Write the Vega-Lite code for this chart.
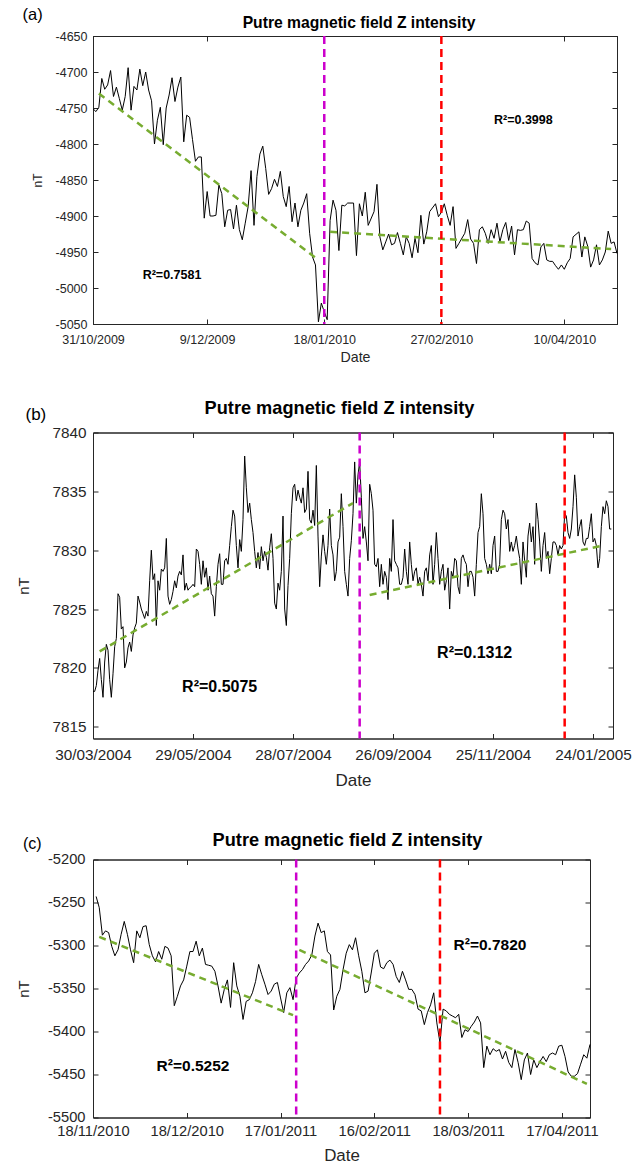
{
  "$schema": "https://vega.github.io/schema/vega-lite/v6.json",
  "background": "white",
  "padding": {"left": 15, "top": 6, "right": 5, "bottom": 1},
  "spacing": 40.5,
  "config": {
    "font": "Liberation Sans",
    "view": {"stroke": "#262626", "strokeWidth": 1},
    "axis": {"grid": false, "tickSize": -5, "domainColor": "#262626", "tickColor": "#262626", "labelColor": "#262626", "titleColor": "#262626", "titleFontWeight": "normal", "labelFlush": false, "labelOverlap": false, "labelBound": false, "domainWidth": 1, "tickWidth": 1, "offset": 0},
    "title": {"fontWeight": "bold", "color": "#000000"}
  },
  "datasets": {
    "a": [
      {"d":"2009-10-31","v":-4751},{"d":"2009-11-01","v":-4755},{"d":"2009-11-02","v":-4749},{"d":"2009-11-03","v":-4709},{"d":"2009-11-04","v":-4724},{"d":"2009-11-05","v":-4718},{"d":"2009-11-06","v":-4698},{"d":"2009-11-07","v":-4734},{"d":"2009-11-08","v":-4721},{"d":"2009-11-09","v":-4737},{"d":"2009-11-10","v":-4753},{"d":"2009-11-11","v":-4734},{"d":"2009-11-12","v":-4694},{"d":"2009-11-13","v":-4753},{"d":"2009-11-14","v":-4720},{"d":"2009-11-15","v":-4725},{"d":"2009-11-16","v":-4696},{"d":"2009-11-17","v":-4719},{"d":"2009-11-18","v":-4700},{"d":"2009-11-19","v":-4725},{"d":"2009-11-20","v":-4740},{"d":"2009-11-21","v":-4800},{"d":"2009-11-22","v":-4767},{"d":"2009-11-23","v":-4749},{"d":"2009-11-24","v":-4801},{"d":"2009-11-25","v":-4750},{"d":"2009-11-26","v":-4732},{"d":"2009-11-27","v":-4708},{"d":"2009-11-28","v":-4741},{"d":"2009-11-29","v":-4721},{"d":"2009-11-30","v":-4707},
      {"d":"2009-12-01","v":-4797},{"d":"2009-12-02","v":-4760},{"d":"2009-12-03","v":-4763},{"d":"2009-12-04","v":-4794},{"d":"2009-12-05","v":-4824},{"d":"2009-12-06","v":-4818},{"d":"2009-12-07","v":-4818},{"d":"2009-12-08","v":-4903},{"d":"2009-12-09","v":-4866},{"d":"2009-12-10","v":-4900},{"d":"2009-12-11","v":-4900},{"d":"2009-12-12","v":-4899},{"d":"2009-12-13","v":-4857},{"d":"2009-12-14","v":-4869},{"d":"2009-12-15","v":-4915},{"d":"2009-12-16","v":-4892},{"d":"2009-12-17","v":-4891},{"d":"2009-12-18","v":-4918},{"d":"2009-12-19","v":-4885},{"d":"2009-12-20","v":-4919},{"d":"2009-12-21","v":-4933},{"d":"2009-12-22","v":-4910},{"d":"2009-12-23","v":-4887},{"d":"2009-12-24","v":-4837},{"d":"2009-12-25","v":-4913},{"d":"2009-12-26","v":-4845},{"d":"2009-12-27","v":-4814},{"d":"2009-12-28","v":-4803},{"d":"2009-12-29","v":-4834},{"d":"2009-12-30","v":-4870},{"d":"2009-12-31","v":-4862},
      {"d":"2010-01-01","v":-4849},{"d":"2010-01-02","v":-4859},{"d":"2010-01-03","v":-4838},{"d":"2010-01-04","v":-4873},{"d":"2010-01-05","v":-4887},{"d":"2010-01-06","v":-4859},{"d":"2010-01-07","v":-4908},{"d":"2010-01-08","v":-4882},{"d":"2010-01-09","v":-4915},{"d":"2010-01-10","v":-4892},{"d":"2010-01-11","v":-4882},{"d":"2010-01-12","v":-4869},{"d":"2010-01-13","v":-4924},{"d":"2010-01-14","v":-4957},{"d":"2010-01-15","v":-4968},{"d":"2010-01-16","v":-5047},{"d":"2010-01-17","v":-5021},{"d":"2010-01-18","v":-5033},{"d":"2010-01-19","v":-5044},{"d":"2010-01-20","v":-4906},{"d":"2010-01-21","v":-4878},{"d":"2010-01-22","v":-4892},{"d":"2010-01-23","v":-4948},{"d":"2010-01-24","v":-4885},{"d":"2010-01-25","v":-4886},{"d":"2010-01-26","v":-4882},{"d":"2010-01-28","v":-4882},{"d":"2010-01-29","v":-4955},{"d":"2010-01-30","v":-4883},{"d":"2010-01-31","v":-4900},
      {"d":"2010-02-01","v":-4867},{"d":"2010-02-02","v":-4913},{"d":"2010-02-04","v":-4894},{"d":"2010-02-05","v":-4856},{"d":"2010-02-06","v":-4929},{"d":"2010-02-07","v":-4947},{"d":"2010-02-08","v":-4936},{"d":"2010-02-09","v":-4925},{"d":"2010-02-10","v":-4940},{"d":"2010-02-11","v":-4938},{"d":"2010-02-12","v":-4923},{"d":"2010-02-13","v":-4938},{"d":"2010-02-14","v":-4954},{"d":"2010-02-15","v":-4929},{"d":"2010-02-16","v":-4938},{"d":"2010-02-17","v":-4958},{"d":"2010-02-18","v":-4931},{"d":"2010-02-19","v":-4951},{"d":"2010-02-20","v":-4899},{"d":"2010-02-21","v":-4939},{"d":"2010-02-22","v":-4922},{"d":"2010-02-23","v":-4894},{"d":"2010-02-25","v":-4883},{"d":"2010-02-26","v":-4901},{"d":"2010-02-27","v":-4895},{"d":"2010-02-28","v":-4883},
      {"d":"2010-03-01","v":-4899},{"d":"2010-03-02","v":-4913},{"d":"2010-03-03","v":-4887},{"d":"2010-03-04","v":-4945},{"d":"2010-03-05","v":-4938},{"d":"2010-03-07","v":-4924},{"d":"2010-03-08","v":-4905},{"d":"2010-03-09","v":-4932},{"d":"2010-03-10","v":-4938},{"d":"2010-03-11","v":-4966},{"d":"2010-03-12","v":-4919},{"d":"2010-03-13","v":-4915},{"d":"2010-03-14","v":-4924},{"d":"2010-03-15","v":-4938},{"d":"2010-03-16","v":-4919},{"d":"2010-03-17","v":-4931},{"d":"2010-03-18","v":-4910},{"d":"2010-03-19","v":-4936},{"d":"2010-03-20","v":-4919},{"d":"2010-03-21","v":-4909},{"d":"2010-03-22","v":-4934},{"d":"2010-03-23","v":-4914},{"d":"2010-03-24","v":-4954},{"d":"2010-03-25","v":-4919},{"d":"2010-03-26","v":-4920},{"d":"2010-03-27","v":-4919},{"d":"2010-03-28","v":-4907},{"d":"2010-03-29","v":-4910},{"d":"2010-03-30","v":-4959},{"d":"2010-03-31","v":-4965},
      {"d":"2010-04-01","v":-4968},{"d":"2010-04-02","v":-4943},{"d":"2010-04-03","v":-4938},{"d":"2010-04-04","v":-4961},{"d":"2010-04-05","v":-4963},{"d":"2010-04-06","v":-4963},{"d":"2010-04-07","v":-4969},{"d":"2010-04-08","v":-4974},{"d":"2010-04-09","v":-4968},{"d":"2010-04-10","v":-4974},{"d":"2010-04-11","v":-4965},{"d":"2010-04-12","v":-4959},{"d":"2010-04-13","v":-4929},{"d":"2010-04-15","v":-4922},{"d":"2010-04-16","v":-4957},{"d":"2010-04-17","v":-4929},{"d":"2010-04-18","v":-4942},{"d":"2010-04-19","v":-4971},{"d":"2010-04-20","v":-4961},{"d":"2010-04-21","v":-4940},{"d":"2010-04-22","v":-4968},{"d":"2010-04-23","v":-4961},{"d":"2010-04-24","v":-4950},{"d":"2010-04-25","v":-4921},{"d":"2010-04-26","v":-4938},{"d":"2010-04-27","v":-4936},{"d":"2010-04-28","v":-4952}
    ],
    "a_trend": [
      {"d":"2009-11-02","v":-4730,"s":"1"},{"d":"2010-01-15","v":-4958,"s":"1"},
      {"d":"2010-01-20","v":-4922,"s":"2"},{"d":"2010-04-26","v":-4946,"s":"2"}
    ],
    "a_ev": [{"d":"2010-01-18","k":"onset"},{"d":"2010-02-27","k":"event"}],
    "a_txt": [{"d":"2009-11-27","v":-4982,"t":"R²=0.7581"},{"d":"2010-03-27","v":-4767,"t":"R²=0.3998"}],
    "b": [
      {"d":"2004-03-30","v":7818.0},{"d":"2004-03-31","v":7818.0},
      {"d":"2004-04-01","v":7818.5},{"d":"2004-04-02","v":7819.8},{"d":"2004-04-03","v":7820.8},{"d":"2004-04-04","v":7819.0},{"d":"2004-04-05","v":7817.5},{"d":"2004-04-06","v":7820.5},{"d":"2004-04-07","v":7822.0},{"d":"2004-04-08","v":7821.5},{"d":"2004-04-09","v":7819.0},{"d":"2004-04-10","v":7817.5},{"d":"2004-04-11","v":7819.5},{"d":"2004-04-12","v":7821.8},{"d":"2004-04-13","v":7822.5},{"d":"2004-04-14","v":7826.3},{"d":"2004-04-15","v":7826.0},{"d":"2004-04-16","v":7823.3},{"d":"2004-04-17","v":7823.5},{"d":"2004-04-18","v":7820.0},{"d":"2004-04-19","v":7820.5},{"d":"2004-04-20","v":7821.7},{"d":"2004-04-21","v":7822.2},{"d":"2004-04-22","v":7821.4},{"d":"2004-04-23","v":7822.8},{"d":"2004-04-24","v":7823.4},{"d":"2004-04-25","v":7823.8},{"d":"2004-04-26","v":7826.1},{"d":"2004-04-27","v":7825.6},{"d":"2004-04-28","v":7825.0},{"d":"2004-04-29","v":7824.6},{"d":"2004-04-30","v":7824.2},
      {"d":"2004-05-01","v":7824.8},{"d":"2004-05-02","v":7824.4},{"d":"2004-05-03","v":7827.4},{"d":"2004-05-04","v":7830.0},{"d":"2004-05-05","v":7827.5},{"d":"2004-05-06","v":7828.0},{"d":"2004-05-07","v":7823.6},{"d":"2004-05-08","v":7827.4},{"d":"2004-05-09","v":7826.6},{"d":"2004-05-10","v":7828.4},{"d":"2004-05-11","v":7828.2},{"d":"2004-05-12","v":7828.5},{"d":"2004-05-13","v":7831.0},{"d":"2004-05-14","v":7826.1},{"d":"2004-05-15","v":7825.4},{"d":"2004-05-16","v":7825.8},{"d":"2004-05-17","v":7826.5},{"d":"2004-05-18","v":7827.4},{"d":"2004-05-19","v":7826.8},{"d":"2004-05-20","v":7827.8},{"d":"2004-05-21","v":7828.2},{"d":"2004-05-22","v":7827.9},{"d":"2004-05-23","v":7829.6},{"d":"2004-05-24","v":7826.6},{"d":"2004-05-25","v":7827.2},{"d":"2004-05-26","v":7826.6},{"d":"2004-05-27","v":7826.8},{"d":"2004-05-28","v":7826.9},{"d":"2004-05-29","v":7827.1},{"d":"2004-05-30","v":7826.9},{"d":"2004-05-31","v":7830.1},
      {"d":"2004-06-01","v":7829.9},{"d":"2004-06-02","v":7828.8},{"d":"2004-06-03","v":7827.1},{"d":"2004-06-04","v":7829.1},{"d":"2004-06-05","v":7827.7},{"d":"2004-06-06","v":7828.5},{"d":"2004-06-07","v":7826.6},{"d":"2004-06-08","v":7827.8},{"d":"2004-06-09","v":7826.3},{"d":"2004-06-10","v":7826.1},{"d":"2004-06-11","v":7824.4},{"d":"2004-06-12","v":7826.9},{"d":"2004-06-13","v":7828.8},{"d":"2004-06-14","v":7829.7},{"d":"2004-06-15","v":7827.1},{"d":"2004-06-16","v":7827.1},{"d":"2004-06-17","v":7829.1},{"d":"2004-06-18","v":7829.3},{"d":"2004-06-19","v":7828.8},{"d":"2004-06-20","v":7830.4},{"d":"2004-06-21","v":7832.0},{"d":"2004-06-22","v":7833.4},{"d":"2004-06-23","v":7832.9},{"d":"2004-06-24","v":7830.4},{"d":"2004-06-25","v":7828.5},{"d":"2004-06-26","v":7830.9},{"d":"2004-06-27","v":7829.9},{"d":"2004-06-28","v":7832.6},{"d":"2004-06-29","v":7838.0},{"d":"2004-06-30","v":7835.3},
      {"d":"2004-07-01","v":7833.2},{"d":"2004-07-02","v":7834.0},{"d":"2004-07-03","v":7832.6},{"d":"2004-07-04","v":7831.5},{"d":"2004-07-05","v":7829.9},{"d":"2004-07-06","v":7828.5},{"d":"2004-07-07","v":7829.8},{"d":"2004-07-08","v":7828.4},{"d":"2004-07-09","v":7830.3},{"d":"2004-07-10","v":7829.1},{"d":"2004-07-11","v":7829.9},{"d":"2004-07-12","v":7829.4},{"d":"2004-07-13","v":7828.3},{"d":"2004-07-14","v":7830.2},{"d":"2004-07-15","v":7831.4},{"d":"2004-07-16","v":7829.3},{"d":"2004-07-17","v":7825.5},{"d":"2004-07-18","v":7825.0},{"d":"2004-07-19","v":7827.2},{"d":"2004-07-20","v":7826.6},{"d":"2004-07-21","v":7828.2},{"d":"2004-07-22","v":7832.9},{"d":"2004-07-23","v":7825.0},{"d":"2004-07-24","v":7823.6},{"d":"2004-07-25","v":7827.0},{"d":"2004-07-26","v":7829.3},{"d":"2004-07-27","v":7833.1},{"d":"2004-07-28","v":7835.3},{"d":"2004-07-29","v":7835.6},{"d":"2004-07-30","v":7834.2},{"d":"2004-07-31","v":7835.1},
      {"d":"2004-08-01","v":7834.5},{"d":"2004-08-02","v":7834.0},{"d":"2004-08-03","v":7835.3},{"d":"2004-08-04","v":7833.2},{"d":"2004-08-05","v":7833.5},{"d":"2004-08-06","v":7836.7},{"d":"2004-08-07","v":7832.6},{"d":"2004-08-08","v":7832.3},{"d":"2004-08-09","v":7833.4},{"d":"2004-08-10","v":7832.1},{"d":"2004-08-11","v":7837.2},{"d":"2004-08-12","v":7831.2},{"d":"2004-08-13","v":7826.9},{"d":"2004-08-14","v":7829.5},{"d":"2004-08-15","v":7831.3},{"d":"2004-08-16","v":7829.9},{"d":"2004-08-17","v":7828.8},{"d":"2004-08-18","v":7830.4},{"d":"2004-08-19","v":7833.5},{"d":"2004-08-20","v":7830.4},{"d":"2004-08-21","v":7829.6},{"d":"2004-08-22","v":7827.4},{"d":"2004-08-23","v":7828.2},{"d":"2004-08-24","v":7830.7},{"d":"2004-08-25","v":7831.1},{"d":"2004-08-26","v":7834.8},{"d":"2004-08-27","v":7832.0},{"d":"2004-08-28","v":7828.2},{"d":"2004-08-29","v":7827.1},{"d":"2004-08-30","v":7826.1},{"d":"2004-08-31","v":7829.3},
      {"d":"2004-09-01","v":7830.8},{"d":"2004-09-02","v":7833.1},{"d":"2004-09-03","v":7837.5},{"d":"2004-09-04","v":7834.0},{"d":"2004-09-05","v":7836.4},{"d":"2004-09-06","v":7837.5},{"d":"2004-09-07","v":7834.5},{"d":"2004-09-08","v":7831.0},{"d":"2004-09-09","v":7832.0},{"d":"2004-09-10","v":7830.7},{"d":"2004-09-11","v":7829.1},{"d":"2004-09-12","v":7835.6},{"d":"2004-09-13","v":7834.8},{"d":"2004-09-14","v":7833.4},{"d":"2004-09-15","v":7828.8},{"d":"2004-09-16","v":7828.6},{"d":"2004-09-17","v":7829.3},{"d":"2004-09-18","v":7826.9},{"d":"2004-09-19","v":7828.8},{"d":"2004-09-20","v":7827.1},{"d":"2004-09-21","v":7828.2},{"d":"2004-09-22","v":7827.7},{"d":"2004-09-23","v":7825.8},{"d":"2004-09-24","v":7829.3},{"d":"2004-09-25","v":7828.2},{"d":"2004-09-26","v":7832.6},{"d":"2004-09-27","v":7829.1},{"d":"2004-09-28","v":7828.8},{"d":"2004-09-29","v":7828.5},{"d":"2004-09-30","v":7827.1},
      {"d":"2004-10-01","v":7827.1},{"d":"2004-10-02","v":7827.7},{"d":"2004-10-03","v":7830.1},{"d":"2004-10-04","v":7828.2},{"d":"2004-10-05","v":7827.1},{"d":"2004-10-06","v":7830.7},{"d":"2004-10-07","v":7828.8},{"d":"2004-10-08","v":7827.4},{"d":"2004-10-09","v":7828.2},{"d":"2004-10-10","v":7828.5},{"d":"2004-10-11","v":7827.1},{"d":"2004-10-12","v":7827.7},{"d":"2004-10-13","v":7827.1},{"d":"2004-10-14","v":7826.1},{"d":"2004-10-15","v":7828.2},{"d":"2004-10-16","v":7828.5},{"d":"2004-10-17","v":7827.4},{"d":"2004-10-18","v":7829.6},{"d":"2004-10-19","v":7830.4},{"d":"2004-10-20","v":7827.1},{"d":"2004-10-21","v":7828.8},{"d":"2004-10-22","v":7831.5},{"d":"2004-10-23","v":7829.3},{"d":"2004-10-24","v":7827.1},{"d":"2004-10-25","v":7828.2},{"d":"2004-10-26","v":7828.8},{"d":"2004-10-27","v":7826.6},{"d":"2004-10-28","v":7827.4},{"d":"2004-10-29","v":7828.5},{"d":"2004-10-30","v":7825.0},{"d":"2004-10-31","v":7828.2},
      {"d":"2004-11-01","v":7827.7},{"d":"2004-11-02","v":7829.3},{"d":"2004-11-03","v":7829.1},{"d":"2004-11-04","v":7826.9},{"d":"2004-11-05","v":7826.3},{"d":"2004-11-06","v":7829.3},{"d":"2004-11-07","v":7829.6},{"d":"2004-11-08","v":7829.1},{"d":"2004-11-09","v":7828.8},{"d":"2004-11-10","v":7826.9},{"d":"2004-11-11","v":7828.2},{"d":"2004-11-12","v":7828.2},{"d":"2004-11-13","v":7827.7},{"d":"2004-11-14","v":7826.1},{"d":"2004-11-15","v":7828.8},{"d":"2004-11-16","v":7831.5},{"d":"2004-11-17","v":7832.0},{"d":"2004-11-18","v":7834.8},{"d":"2004-11-19","v":7833.1},{"d":"2004-11-20","v":7829.3},{"d":"2004-11-21","v":7828.8},{"d":"2004-11-22","v":7828.0},{"d":"2004-11-23","v":7828.8},{"d":"2004-11-24","v":7828.0},{"d":"2004-11-25","v":7830.4},{"d":"2004-11-26","v":7831.2},{"d":"2004-11-27","v":7828.2},{"d":"2004-11-28","v":7828.2},{"d":"2004-11-29","v":7828.8},{"d":"2004-11-30","v":7832.6},
      {"d":"2004-12-01","v":7833.4},{"d":"2004-12-02","v":7833.1},{"d":"2004-12-03","v":7831.8},{"d":"2004-12-04","v":7832.6},{"d":"2004-12-05","v":7829.9},{"d":"2004-12-06","v":7830.7},{"d":"2004-12-07","v":7829.9},{"d":"2004-12-08","v":7830.4},{"d":"2004-12-09","v":7831.2},{"d":"2004-12-10","v":7830.1},{"d":"2004-12-11","v":7829.3},{"d":"2004-12-12","v":7827.1},{"d":"2004-12-13","v":7830.7},{"d":"2004-12-14","v":7829.1},{"d":"2004-12-15","v":7827.7},{"d":"2004-12-16","v":7831.2},{"d":"2004-12-17","v":7832.3},{"d":"2004-12-18","v":7830.7},{"d":"2004-12-19","v":7832.0},{"d":"2004-12-20","v":7828.8},{"d":"2004-12-21","v":7834.0},{"d":"2004-12-22","v":7832.6},{"d":"2004-12-23","v":7830.7},{"d":"2004-12-24","v":7828.2},{"d":"2004-12-25","v":7830.4},{"d":"2004-12-26","v":7831.5},{"d":"2004-12-27","v":7829.3},{"d":"2004-12-28","v":7829.9},{"d":"2004-12-29","v":7828.0},{"d":"2004-12-30","v":7829.3},{"d":"2004-12-31","v":7830.7},
      {"d":"2005-01-01","v":7830.7},{"d":"2005-01-02","v":7830.4},{"d":"2005-01-03","v":7829.6},{"d":"2005-01-04","v":7830.4},{"d":"2005-01-05","v":7830.1},{"d":"2005-01-06","v":7830.4},{"d":"2005-01-07","v":7833.1},{"d":"2005-01-08","v":7832.9},{"d":"2005-01-09","v":7831.5},{"d":"2005-01-10","v":7831.0},{"d":"2005-01-11","v":7831.8},{"d":"2005-01-12","v":7833.7},{"d":"2005-01-13","v":7836.4},{"d":"2005-01-14","v":7834.5},{"d":"2005-01-15","v":7831.2},{"d":"2005-01-16","v":7832.0},{"d":"2005-01-17","v":7832.6},{"d":"2005-01-18","v":7830.7},{"d":"2005-01-19","v":7830.4},{"d":"2005-01-20","v":7831.0},{"d":"2005-01-21","v":7831.0},{"d":"2005-01-22","v":7832.0},{"d":"2005-01-23","v":7833.1},{"d":"2005-01-24","v":7830.7},{"d":"2005-01-25","v":7831.0},{"d":"2005-01-26","v":7830.4},{"d":"2005-01-27","v":7828.5},{"d":"2005-01-28","v":7829.3},{"d":"2005-01-29","v":7832.0},{"d":"2005-01-30","v":7833.7},{"d":"2005-01-31","v":7833.1},
      {"d":"2005-02-01","v":7834.2},{"d":"2005-02-02","v":7833.7},{"d":"2005-02-03","v":7831.8},{"d":"2005-02-04","v":7831.8}
    ],
    "b_trend": [
      {"d":"2004-04-03","v":7821.4,"s":"1"},{"d":"2004-09-02","v":7834.0,"s":"1"},
      {"d":"2004-09-12","v":7826.2,"s":"2"},{"d":"2005-01-30","v":7830.4,"s":"2"}
    ],
    "b_ev": [{"d":"2004-09-06","k":"onset"},{"d":"2005-01-07","k":"event"}],
    "b_txt": [{"d":"2004-06-14","v":7818.4,"t":"R²=0.5075"},{"d":"2004-11-14","v":7821.3,"t":"R²=0.1312"}],
    "c": [
      {"d":"2010-11-19","v":-5243},{"d":"2010-11-20","v":-5256},{"d":"2010-11-21","v":-5288},{"d":"2010-11-22","v":-5283},{"d":"2010-11-23","v":-5285},{"d":"2010-11-24","v":-5301},{"d":"2010-11-25","v":-5312},{"d":"2010-11-26","v":-5305},{"d":"2010-11-27","v":-5287},{"d":"2010-11-28","v":-5272},{"d":"2010-11-29","v":-5287},{"d":"2010-11-30","v":-5305},
      {"d":"2010-12-01","v":-5320},{"d":"2010-12-02","v":-5283},{"d":"2010-12-03","v":-5291},{"d":"2010-12-04","v":-5278},{"d":"2010-12-05","v":-5277},{"d":"2010-12-06","v":-5299},{"d":"2010-12-07","v":-5312},{"d":"2010-12-08","v":-5319},{"d":"2010-12-09","v":-5307},{"d":"2010-12-10","v":-5316},{"d":"2010-12-11","v":-5301},{"d":"2010-12-12","v":-5303},{"d":"2010-12-13","v":-5312},{"d":"2010-12-14","v":-5370},{"d":"2010-12-15","v":-5359},{"d":"2010-12-16","v":-5347},{"d":"2010-12-17","v":-5340},{"d":"2010-12-18","v":-5324},{"d":"2010-12-19","v":-5307},{"d":"2010-12-20","v":-5307},{"d":"2010-12-21","v":-5295},{"d":"2010-12-22","v":-5312},{"d":"2010-12-23","v":-5303},{"d":"2010-12-24","v":-5322},{"d":"2010-12-25","v":-5323},{"d":"2010-12-26","v":-5324},{"d":"2010-12-27","v":-5330},{"d":"2010-12-28","v":-5347},{"d":"2010-12-29","v":-5367},{"d":"2010-12-30","v":-5351},{"d":"2010-12-31","v":-5340},
      {"d":"2011-01-01","v":-5372},{"d":"2011-01-02","v":-5320},{"d":"2011-01-03","v":-5347},{"d":"2011-01-04","v":-5359},{"d":"2011-01-05","v":-5386},{"d":"2011-01-06","v":-5365},{"d":"2011-01-07","v":-5363},{"d":"2011-01-08","v":-5355},{"d":"2011-01-09","v":-5342},{"d":"2011-01-10","v":-5322},{"d":"2011-01-11","v":-5334},{"d":"2011-01-12","v":-5345},{"d":"2011-01-13","v":-5357},{"d":"2011-01-14","v":-5353},{"d":"2011-01-15","v":-5345},{"d":"2011-01-16","v":-5343},{"d":"2011-01-17","v":-5361},{"d":"2011-01-18","v":-5378},{"d":"2011-01-19","v":-5355},{"d":"2011-01-20","v":-5349},{"d":"2011-01-21","v":-5363},{"d":"2011-01-22","v":-5338},{"d":"2011-01-23","v":-5332},{"d":"2011-01-24","v":-5328},{"d":"2011-01-25","v":-5322},{"d":"2011-01-26","v":-5318},{"d":"2011-01-27","v":-5311},{"d":"2011-01-28","v":-5289},{"d":"2011-01-29","v":-5274},{"d":"2011-01-30","v":-5285},{"d":"2011-01-31","v":-5283},
      {"d":"2011-02-01","v":-5307},{"d":"2011-02-02","v":-5311},{"d":"2011-02-03","v":-5375},{"d":"2011-02-04","v":-5359},{"d":"2011-02-05","v":-5351},{"d":"2011-02-06","v":-5328},{"d":"2011-02-07","v":-5309},{"d":"2011-02-08","v":-5299},{"d":"2011-02-09","v":-5305},{"d":"2011-02-10","v":-5291},{"d":"2011-02-11","v":-5312},{"d":"2011-02-12","v":-5330},{"d":"2011-02-13","v":-5355},{"d":"2011-02-14","v":-5353},{"d":"2011-02-15","v":-5332},{"d":"2011-02-16","v":-5309},{"d":"2011-02-17","v":-5305},{"d":"2011-02-18","v":-5325},{"d":"2011-02-19","v":-5327},{"d":"2011-02-20","v":-5320},{"d":"2011-02-21","v":-5317},{"d":"2011-02-22","v":-5322},{"d":"2011-02-23","v":-5336},{"d":"2011-02-24","v":-5343},{"d":"2011-02-25","v":-5330},{"d":"2011-02-26","v":-5340},{"d":"2011-02-27","v":-5351},{"d":"2011-02-28","v":-5351},
      {"d":"2011-03-01","v":-5357},{"d":"2011-03-02","v":-5374},{"d":"2011-03-03","v":-5376},{"d":"2011-03-04","v":-5392},{"d":"2011-03-05","v":-5378},{"d":"2011-03-06","v":-5369},{"d":"2011-03-07","v":-5355},{"d":"2011-03-08","v":-5390},{"d":"2011-03-09","v":-5413},{"d":"2011-03-10","v":-5374},{"d":"2011-03-11","v":-5376},{"d":"2011-03-12","v":-5380},{"d":"2011-03-13","v":-5382},{"d":"2011-03-14","v":-5384},{"d":"2011-03-15","v":-5380},{"d":"2011-03-16","v":-5407},{"d":"2011-03-17","v":-5398},{"d":"2011-03-18","v":-5400},{"d":"2011-03-19","v":-5394},{"d":"2011-03-20","v":-5389},{"d":"2011-03-21","v":-5382},{"d":"2011-03-22","v":-5390},{"d":"2011-03-23","v":-5442},{"d":"2011-03-24","v":-5417},{"d":"2011-03-25","v":-5427},{"d":"2011-03-26","v":-5420},{"d":"2011-03-27","v":-5423},{"d":"2011-03-28","v":-5421},{"d":"2011-03-29","v":-5432},{"d":"2011-03-30","v":-5423},{"d":"2011-03-31","v":-5436},
      {"d":"2011-04-01","v":-5442},{"d":"2011-04-02","v":-5421},{"d":"2011-04-03","v":-5436},{"d":"2011-04-04","v":-5456},{"d":"2011-04-05","v":-5433},{"d":"2011-04-06","v":-5425},{"d":"2011-04-07","v":-5450},{"d":"2011-04-08","v":-5433},{"d":"2011-04-09","v":-5442},{"d":"2011-04-10","v":-5435},{"d":"2011-04-11","v":-5429},{"d":"2011-04-12","v":-5435},{"d":"2011-04-13","v":-5427},{"d":"2011-04-14","v":-5425},{"d":"2011-04-15","v":-5427},{"d":"2011-04-16","v":-5417},{"d":"2011-04-17","v":-5416},{"d":"2011-04-18","v":-5429},{"d":"2011-04-19","v":-5447},{"d":"2011-04-20","v":-5452},{"d":"2011-04-21","v":-5452},{"d":"2011-04-22","v":-5449},{"d":"2011-04-23","v":-5438},{"d":"2011-04-24","v":-5427},{"d":"2011-04-25","v":-5431},{"d":"2011-04-26","v":-5415}
    ],
    "c_trend": [
      {"d":"2010-11-20","v":-5290,"s":"1"},{"d":"2011-01-21","v":-5381,"s":"1"},
      {"d":"2011-01-23","v":-5305,"s":"2"},{"d":"2011-04-25","v":-5461,"s":"2"}
    ],
    "c_ev": [{"d":"2011-01-22","k":"onset"},{"d":"2011-03-09","k":"event"}],
    "c_txt": [{"d":"2010-12-20","v":-5440,"t":"R²=0.5252"},{"d":"2011-03-25","v":-5299,"t":"R²=0.7820"}]
  },
  "vconcat": [
    {
      "spacing": 32.5,
      "vconcat": [
        {
          "title": {"text": "(a)", "anchor": "start", "frame": "bounds", "fontSize": 16.5, "fontWeight": "normal", "color": "#000000", "offset": -8.5, "dx": -8},
          "vconcat": [{
            "width": 524, "height": 288,
            "title": {"text": "Putre magnetic field Z intensity", "fontSize": 15.7, "offset": -2, "dx": 4},
            "layer": [
              {"data": {"name": "a"}, "mark": {"type": "line", "color": "#000000", "strokeWidth": 1},
               "encoding": {
                 "x": {"field": "d", "type": "temporal", "scale": {"type": "utc", "domain": [{"year": 2009, "month": 10, "date": 31, "utc": true}, {"year": 2010, "month": 4, "date": 28, "utc": true}]},
                       "axis": {"title": "Date", "format": "%-d/%m/%Y", "labelFlush": false, "labelFontSize": 12.5, "labelPadding": 14, "titleFontSize": 14.2, "titlePadding": 5,
                                "values": [{"year": 2009, "month": 10, "date": 31, "utc": true}, {"year": 2009, "month": 12, "date": 9, "utc": true}, {"year": 2010, "month": 1, "date": 18, "utc": true}, {"year": 2010, "month": 2, "date": 27, "utc": true}, {"year": 2010, "month": 4, "date": 10, "utc": true}]}},
                 "y": {"field": "v", "type": "quantitative", "scale": {"domain": [-5050, -4650]},
                       "axis": {"title": "nT", "labelExpr": "datum.value + ''", "labelFontSize": 12.5, "labelPadding": 11, "titleFontSize": 12, "titlePadding": 11, "values": [-5050, -5000, -4950, -4900, -4850, -4800, -4750, -4700, -4650]}}
               }},
              {"data": {"name": "a_trend"}, "mark": {"type": "line", "color": "#77AC30", "strokeWidth": 2.5, "strokeDash": [7, 5]},
               "encoding": {
                 "x": {"field": "d", "type": "temporal", "axis": {"orient": "top", "labels": false, "title": null, "values": [{"year": 2009, "month": 10, "date": 31, "utc": true}, {"year": 2009, "month": 12, "date": 9, "utc": true}, {"year": 2010, "month": 1, "date": 18, "utc": true}, {"year": 2010, "month": 2, "date": 27, "utc": true}, {"year": 2010, "month": 4, "date": 10, "utc": true}]}},
                 "y": {"field": "v", "type": "quantitative", "axis": {"orient": "right", "labels": false, "title": null, "values": [-5050, -5000, -4950, -4900, -4850, -4800, -4750, -4700, -4650]}},
                 "detail": {"field": "s", "type": "nominal"}
               }},
              {"data": {"name": "a_ev"}, "mark": {"type": "rule", "strokeWidth": 2.5, "strokeDash": [8, 5]},
               "encoding": {
                 "x": {"field": "d", "type": "temporal", "axis": null},
                 "color": {"field": "k", "type": "nominal", "scale": {"domain": ["onset", "event"], "range": ["#CC00CC", "#FF0000"]}, "legend": null}
               }},
              {"data": {"name": "a_txt"}, "mark": {"type": "text", "fontWeight": "bold", "fontSize": 12.5, "color": "#000000"},
               "encoding": {
                 "x": {"field": "d", "type": "temporal", "axis": null},
                 "y": {"field": "v", "type": "quantitative", "axis": null},
                 "text": {"field": "t"}
               }}
            ],
            "resolve": {"axis": {"x": "independent", "y": "independent"}}
          }]
        },
        {
          "title": {"text": "(b)", "anchor": "start", "frame": "bounds", "fontSize": 17, "fontWeight": "normal", "color": "#000000", "offset": -25.5, "dx": 9},
          "vconcat": [{
            "width": 520, "height": 306,
            "title": {"text": "Putre magnetic field Z intensity", "fontSize": 18.2, "offset": 7, "dx": -13.5},
            "layer": [
              {"data": {"name": "b"}, "mark": {"type": "line", "color": "#000000", "strokeWidth": 1},
               "encoding": {
                 "x": {"field": "d", "type": "temporal", "scale": {"type": "utc", "domain": [{"year": 2004, "month": 3, "date": 30, "utc": true}, {"year": 2005, "month": 2, "date": 5, "utc": true}]},
                       "axis": {"title": "Date", "format": "%-d/%m/%Y", "labelFlush": false, "labelFontSize": 15.3, "labelPadding": 14, "titleFontSize": 17, "titlePadding": 10,
                                "values": [{"year": 2004, "month": 3, "date": 30, "utc": true}, {"year": 2004, "month": 5, "date": 29, "utc": true}, {"year": 2004, "month": 7, "date": 28, "utc": true}, {"year": 2004, "month": 9, "date": 26, "utc": true}, {"year": 2004, "month": 11, "date": 25, "utc": true}, {"year": 2005, "month": 1, "date": 24, "utc": true}]}},
                 "y": {"field": "v", "type": "quantitative", "scale": {"domain": [7815, 7840]},
                       "axis": {"title": "nT", "labelExpr": "datum.value + ''", "labelFontSize": 15.3, "labelPadding": 12, "titleFontSize": 15, "titlePadding": 20, "values": [7815, 7820, 7825, 7830, 7835, 7840]}}
               }},
              {"data": {"name": "b_trend"}, "mark": {"type": "line", "color": "#77AC30", "strokeWidth": 2.5, "strokeDash": [7, 5]},
               "encoding": {
                 "x": {"field": "d", "type": "temporal", "axis": {"orient": "top", "labels": false, "title": null, "values": [{"year": 2004, "month": 3, "date": 30, "utc": true}, {"year": 2004, "month": 5, "date": 29, "utc": true}, {"year": 2004, "month": 7, "date": 28, "utc": true}, {"year": 2004, "month": 9, "date": 26, "utc": true}, {"year": 2004, "month": 11, "date": 25, "utc": true}, {"year": 2005, "month": 1, "date": 24, "utc": true}]}},
                 "y": {"field": "v", "type": "quantitative", "axis": {"orient": "right", "labels": false, "title": null, "values": [7815, 7820, 7825, 7830, 7835, 7840]}},
                 "detail": {"field": "s", "type": "nominal"}
               }},
              {"data": {"name": "b_ev"}, "mark": {"type": "rule", "strokeWidth": 2.5, "strokeDash": [8, 5]},
               "encoding": {
                 "x": {"field": "d", "type": "temporal", "axis": null},
                 "color": {"field": "k", "type": "nominal", "scale": {"domain": ["onset", "event"], "range": ["#CC00CC", "#FF0000"]}, "legend": null}
               }},
              {"data": {"name": "b_txt"}, "mark": {"type": "text", "fontWeight": "bold", "fontSize": 16, "color": "#000000"},
               "encoding": {
                 "x": {"field": "d", "type": "temporal", "axis": null},
                 "y": {"field": "v", "type": "quantitative", "axis": null},
                 "text": {"field": "t"}
               }}
            ],
            "resolve": {"axis": {"x": "independent", "y": "independent"}}
          }]
        }
      ]
    },
    {
      "title": {"text": "(c)", "anchor": "start", "frame": "bounds", "fontSize": 16, "fontWeight": "normal", "color": "#000000", "offset": -21, "dx": 7},
      "vconcat": [{
        "width": 497, "height": 258,
        "title": {"text": "Putre magnetic field Z intensity", "fontSize": 18.2, "offset": 1, "dx": 6},
        "layer": [
          {"data": {"name": "c"}, "mark": {"type": "line", "color": "#000000", "strokeWidth": 1},
           "encoding": {
             "x": {"field": "d", "type": "temporal", "scale": {"type": "utc", "domain": [{"year": 2010, "month": 11, "date": 18, "utc": true}, {"year": 2011, "month": 4, "date": 26, "utc": true}]},
                   "axis": {"title": "Date", "format": "%-d/%m/%Y", "labelFlush": false, "labelFontSize": 14.7, "labelPadding": 11, "titleFontSize": 16.9, "titlePadding": 9.5,
                            "values": [{"year": 2010, "month": 11, "date": 18, "utc": true}, {"year": 2010, "month": 12, "date": 18, "utc": true}, {"year": 2011, "month": 1, "date": 17, "utc": true}, {"year": 2011, "month": 2, "date": 16, "utc": true}, {"year": 2011, "month": 3, "date": 18, "utc": true}, {"year": 2011, "month": 4, "date": 17, "utc": true}]}},
             "y": {"field": "v", "type": "quantitative", "scale": {"domain": [-5500, -5200]},
                   "axis": {"title": "nT", "labelExpr": "datum.value + ''", "labelFontSize": 14.7, "labelPadding": 13, "titleFontSize": 15, "titlePadding": 16, "values": [-5500, -5450, -5400, -5350, -5300, -5250, -5200]}}
           }},
          {"data": {"name": "c_trend"}, "mark": {"type": "line", "color": "#77AC30", "strokeWidth": 2.5, "strokeDash": [7, 5]},
           "encoding": {
             "x": {"field": "d", "type": "temporal", "axis": {"orient": "top", "labels": false, "title": null, "values": [{"year": 2010, "month": 11, "date": 18, "utc": true}, {"year": 2010, "month": 12, "date": 18, "utc": true}, {"year": 2011, "month": 1, "date": 17, "utc": true}, {"year": 2011, "month": 2, "date": 16, "utc": true}, {"year": 2011, "month": 3, "date": 18, "utc": true}, {"year": 2011, "month": 4, "date": 17, "utc": true}]}},
             "y": {"field": "v", "type": "quantitative", "axis": {"orient": "right", "labels": false, "title": null, "values": [-5500, -5450, -5400, -5350, -5300, -5250, -5200]}},
             "detail": {"field": "s", "type": "nominal"}
           }},
          {"data": {"name": "c_ev"}, "mark": {"type": "rule", "strokeWidth": 2.5, "strokeDash": [8, 5]},
           "encoding": {
             "x": {"field": "d", "type": "temporal", "axis": null},
             "color": {"field": "k", "type": "nominal", "scale": {"domain": ["onset", "event"], "range": ["#CC00CC", "#FF0000"]}, "legend": null}
           }},
          {"data": {"name": "c_txt"}, "mark": {"type": "text", "fontWeight": "bold", "fontSize": 15.5, "color": "#000000"},
           "encoding": {
             "x": {"field": "d", "type": "temporal", "axis": null},
             "y": {"field": "v", "type": "quantitative", "axis": null},
             "text": {"field": "t"}
           }}
        ],
        "resolve": {"axis": {"x": "independent", "y": "independent"}}
      }]
    }
  ]
}
